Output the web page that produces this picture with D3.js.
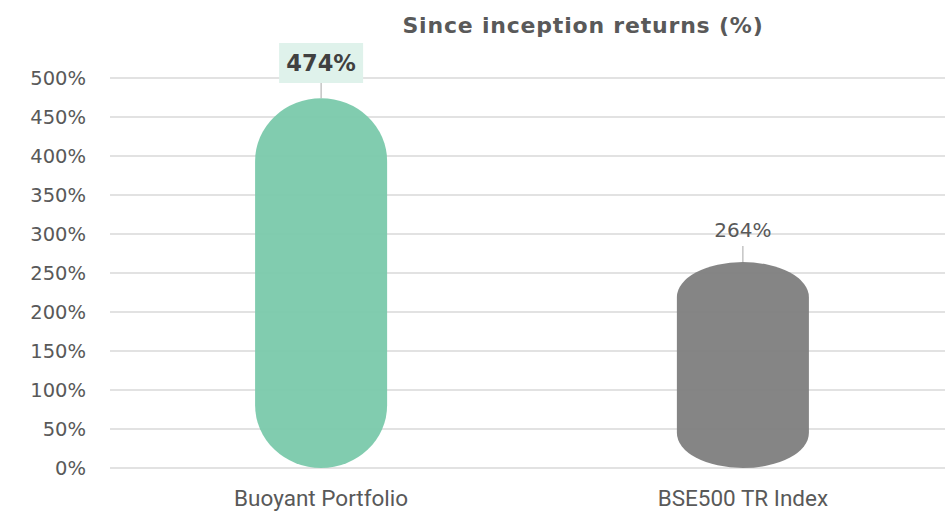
<!DOCTYPE html>
<html>
<head>
<meta charset="utf-8">
<script src="https://cdn.jsdelivr.net/npm/d3@7"></script>
<style>
  body { margin: 0; background: #fff; }
  text { font-family: "DejaVu Sans", sans-serif; }
</style>
</head>
<body>
<div id="chart"></div>
<script>
// data
const categories = ["Buoyant Portfolio", "BSE500 TR Index"];
const returns = [474, 264];
const barColors = ["#7ccaac", "#808080"];
const yTicks = [0, 50, 100, 150, 200, 250, 300, 350, 400, 450, 500];

const W = 945, H = 512;
const svg = d3.select("#chart").append("svg")
  .attr("width", W)
  .attr("height", H);

const plotLeft = 110, plotRight = 945;

// band scale tuned so bars sit at ~321 and ~743
const x = d3.scaleBand()
  .domain(categories)
  .range([plotLeft, 954])
  .paddingInner(0.687)
  .paddingOuter(0.344);

const y = d3.scaleLinear()
  .domain([0, 500])
  .range([468, 78]);

// gridlines
svg.append("g")
  .selectAll("line")
  .data(yTicks)
  .enter()
  .append("line")
  .attr("x1", plotLeft)
  .attr("x2", plotRight)
  .attr("y1", d => y(d))
  .attr("y2", d => y(d))
  .attr("stroke", "#d9d9d9")
  .attr("stroke-width", 1.3);

// y tick labels
svg.append("g")
  .selectAll("text")
  .data(yTicks)
  .enter()
  .append("text")
  .attr("x", 86)
  .attr("y", d => y(d))
  .attr("dy", "0.36em")
  .attr("text-anchor", "end")
  .style("font-size", "19.5px")
  .attr("fill", "#595959")
  .text(d => d + "%");

// bars (capsule shaped)
const bars = categories.map((c, i) => ({cat: c, val: returns[i], color: barColors[i]}));

svg.selectAll(".bar")
  .data(bars)
  .enter()
  .append("rect")
  .attr("class", "bar")
  .attr("x", d => x(d.cat))
  .attr("y", d => y(d.val))
  .attr("width", x.bandwidth())
  .attr("height", d => y(0) - y(d.val))
  .attr("rx", x.bandwidth() / 2)
  .attr("ry", d => (y(0) - y(d.val)) * 0.17)
  .attr("fill", d => d.color)
  .attr("opacity", 0.96);

const cx = d => x(d.cat) + x.bandwidth() / 2;

// Buoyant label: bold with box
const b0 = bars[0];
svg.append("rect")
  .attr("x", cx(b0) - 42)
  .attr("y", 43)
  .attr("width", 84)
  .attr("height", 40)
  .attr("fill", "#dff2eb");
svg.append("line")
  .attr("x1", cx(b0)).attr("x2", cx(b0))
  .attr("y1", 83).attr("y2", y(b0.val))
  .attr("stroke", "#a6a6a6");
svg.append("text")
  .attr("x", cx(b0))
  .attr("y", 71)
  .attr("text-anchor", "middle")
  .style("font-size", "22.5px")
  .style("font-weight", "bold")
  .attr("fill", "#404040")
  .text(b0.val + "%");

// BSE500 label
const b1 = bars[1];
svg.append("line")
  .attr("x1", cx(b1)).attr("x2", cx(b1))
  .attr("y1", 246).attr("y2", y(b1.val))
  .attr("stroke", "#a6a6a6");
svg.append("text")
  .attr("x", cx(b1))
  .attr("y", 237)
  .attr("text-anchor", "middle")
  .style("font-size", "20px")
  .attr("fill", "#595959")
  .text(b1.val + "%");

// x labels
svg.append("g")
  .selectAll("text")
  .data(categories)
  .enter()
  .append("text")
  .attr("x", d => x(d) + x.bandwidth() / 2)
  .attr("y", 506)
  .attr("text-anchor", "middle")
  .style("font-family", "Roboto, sans-serif")
  .style("font-size", "22.5px")
  .attr("fill", "#595959")
  .text(d => d);

// title
svg.append("text")
  .attr("x", 583)
  .attr("y", 33)
  .attr("text-anchor", "middle")
  .style("font-size", "22px")
  .style("font-weight", "bold")
  .style("letter-spacing", "0.8px")
  .attr("fill", "#595959")
  .text("Since inception returns (%)");
</script>
</body>
</html>
